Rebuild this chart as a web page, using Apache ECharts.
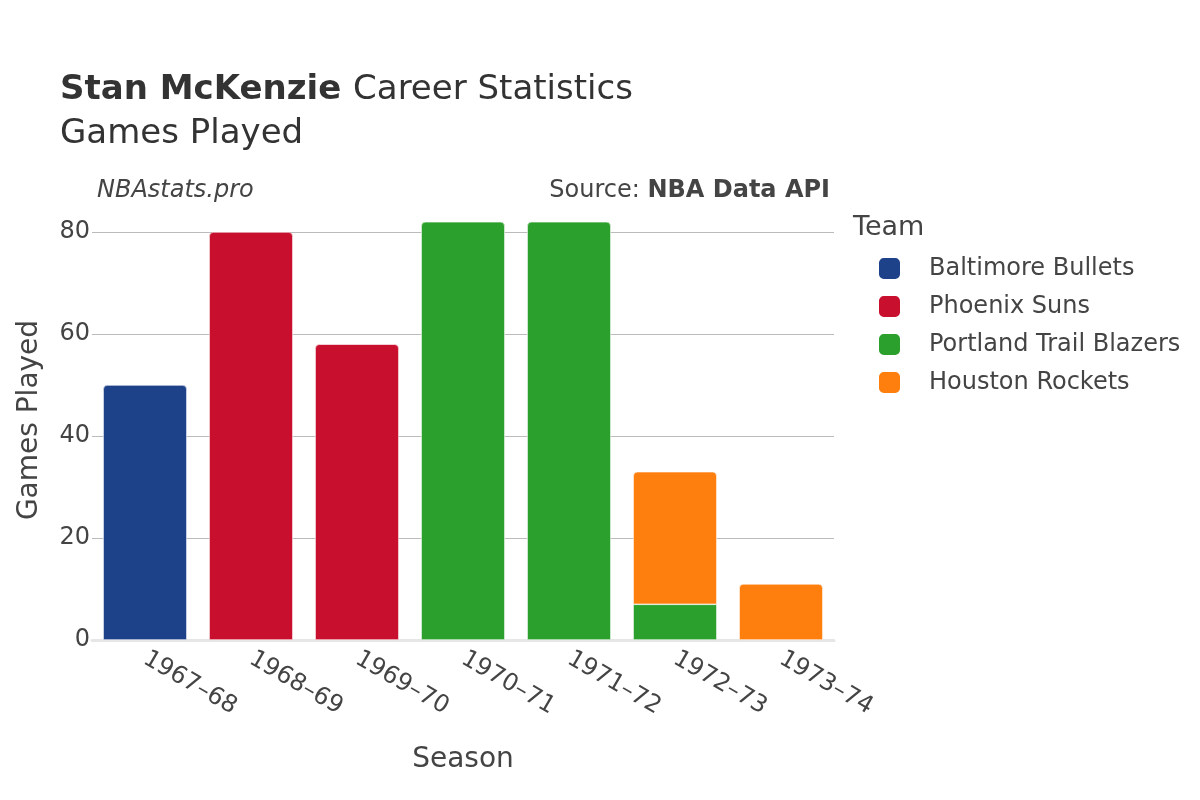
<!DOCTYPE html>
<html>
<head>
<meta charset="utf-8">
<script src="https://cdn.jsdelivr.net/npm/echarts@6/dist/echarts.min.js"></script>
<style>
	html, body { margin: 0; padding: 0; background: #fff; }
	#chart { width: 1200px; height: 800px; }
</style>
</head>
<body>
<div id="chart"></div>
<script>
var seasons = ['1967–68', '1968–69', '1969–70', '1970–71', '1971–72', '1972–73', '1973–74'];
var teams = ['Baltimore Bullets', 'Phoenix Suns', 'Portland Trail Blazers', 'Houston Rockets'];
var teamColors = ['#1d428a', '#c8102e', '#2ca02c', '#ff7f0e'];
var baltimore = [50, null, null, null, null, null, null];
var phoenix = [null, 80, 58, null, null, null, null];
var portland = [null, null, null, 82, 82, 7, null];
var houston = [null, null, null, null, null, 26, 11];
var yTicks = [0, 20, 40, 60, 80];

var font = 'DejaVu Sans';
var textColor = '#444';
var allValues = [baltimore, phoenix, portland, houston];

//顶部有其他队叠在上面的话，就不要圆角
function makeData(idx) {
	return allValues[idx].map(function(v, i) {
		var covered = false;
		for (var k = idx + 1; k < allValues.length; k++) {
			if (allValues[k][i] != null) covered = true;
		}
		return {
			value: v,
			itemStyle: { borderRadius: covered ? 0 : [4, 4, 0, 0] }
		};
	});
}

var series = teams.map(function(name, idx) {
	return {
		name: name,
		type: 'bar',
		stack: 'total',
		clip: false,
		barCategoryGap: '21%',
		itemStyle: {
			color: teamColors[idx],
			borderColor: '#fff',
			borderWidth: 0.6
		},
		data: makeData(idx)
	};
});

var chart = echarts.init(document.getElementById('chart'));
var option = {
	backgroundColor: '#fff',
	animation: false,
	title: {
		left: 60,
		top: 68,
		padding: 0,
		text: '{b|Stan McKenzie }{n|Career Statistics}\n{n|Games Played}',
		textStyle: {
			rich: {
				b: { fontFamily: font, fontSize: 34, fontWeight: 'bold', color: '#333', lineHeight: 44 },
				n: { fontFamily: font, fontSize: 34, fontWeight: 'normal', color: '#333', lineHeight: 44 }
			}
		}
	},
	grid: {
		left: 92,
		right: 366,
		top: 232,
		bottom: 160
	},
	legend: {
		orient: 'vertical',
		left: 872,
		top: 251,
		itemWidth: 23,
		itemHeight: 23,
		itemGap: 13,
		icon: 'roundRect',
		data: teams,
		textStyle: {
			fontFamily: font,
			fontSize: 24,
			color: textColor,
			padding: [0, 0, 0, 23]
		}
	},
	xAxis: {
		type: 'category',
		data: seasons,
		axisLine: { show: true, lineStyle: { color: '#e6e6e6', width: 3 } },
		axisTick: { show: false },
		axisLabel: {
			rotate: -30,
			margin: 17,
			fontFamily: font,
			fontSize: 24,
			color: textColor
		}
	},
	yAxis: {
		type: 'value',
		min: yTicks[0],
		max: yTicks[yTicks.length - 1],
		interval: 20,
		axisLine: { show: false },
		axisTick: { show: false },
		splitLine: { lineStyle: { color: '#bbb', width: 1 } },
		axisLabel: {
			margin: 2,
			fontFamily: font,
			fontSize: 24,
			color: textColor
		}
	},
	graphic: [{
		type: 'text',
		left: 97,
		top: 179,
		style: { text: 'NBAstats.pro', fontFamily: font, fontSize: 24, fontStyle: 'italic', fill: textColor }
	}, {
		type: 'text',
		right: 370,
		top: 179,
		style: {
			text: '{n|Source: }{b|NBA Data API}',
			rich: {
				n: { fontFamily: font, fontSize: 24, fill: textColor },
				b: { fontFamily: font, fontSize: 24, fontWeight: 'bold', fill: textColor }
			}
		}
	}, {
		type: 'text',
		left: 853,
		top: 214,
		style: { text: 'Team', fontFamily: font, fontSize: 27, fill: textColor }
	}, {
		type: 'text',
		x: 463,
		y: 760,
		style: { text: 'Season', fontFamily: font, fontSize: 28, fill: textColor, align: 'center', verticalAlign: 'middle' }
	}, {
		type: 'text',
		x: 30,
		y: 420,
		rotation: Math.PI / 2,
		style: { text: 'Games Played', fontFamily: font, fontSize: 28, fill: textColor, align: 'center', verticalAlign: 'middle' }
	}],
	series: series
};
chart.setOption(option);
</script>
</body>
</html>
